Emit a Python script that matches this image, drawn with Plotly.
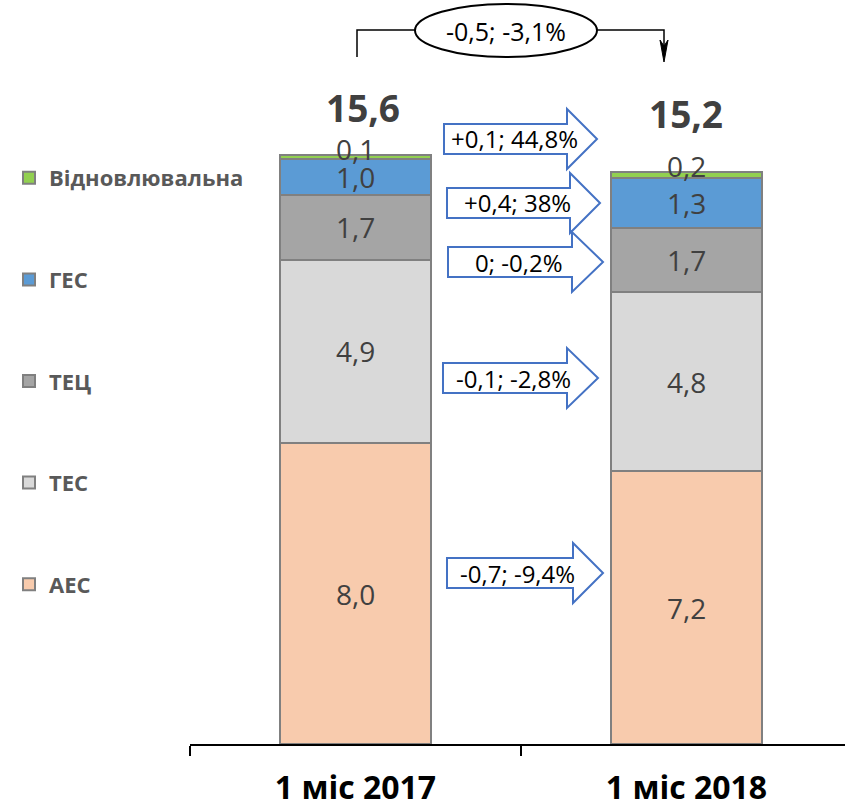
import plotly.graph_objects as go

# ---------------- data ----------------
categories = ["1 міс 2017", "1 міс 2018"]
series_names = ["АЕС", "ТЕС", "ТЕЦ", "ГЕС", "Відновлювальна"]
aes = [7.98, 7.23]
tes = [4.87, 4.76]
tec = [1.71, 1.71]
ges = [0.96, 1.31]
renew = [0.11, 0.16]
change_labels = ["+0,1; 44,8%", "+0,4; 38%", "0; -0,2%", "-0,1; -2,8%", "-0,7; -9,4%"]
total_change_label = "-0,5; -3,1%"

series_values = [aes, tes, tec, ges, renew]
series_colors = ["#F8CBAD", "#D9D9D9", "#A5A5A5", "#5B9BD5", "#92D050"]

# ---------------- geometry helpers (pixels -> paper) ----------------
W, H = 845, 806
MB = 62
PH = H - MB  # plot-area height (t=0)


def px(x):
    return x / W


def py(y):
    return 1 - y / PH


def fmt(v):
    return f"{v:.1f}".replace(".", ",")


FONT = "Open Sans, Noto Sans, sans-serif"

fig = go.Figure()
n = len(series_names)
for k, (name, vals, col) in enumerate(zip(series_names, series_values, series_colors)):
    fig.add_trace(go.Bar(
        x=categories, y=vals, name=name, legendgroup=name, legendrank=100 * (n - k),
        marker=dict(color=col, line=dict(color="#808080", width=2)),
        width=0.456, hoverinfo="skip",
    ))

annotations = []
# segment labels
for i, cat in enumerate(categories):
    base = 0.0
    for k, vals in enumerate(series_values):
        v = vals[i]
        if k == len(series_values) - 1:
            annotations.append(dict(x=cat, y=base + v, xref="x", yref="y", text=fmt(v),
                                    showarrow=False, yanchor="middle", yshift=6,
                                    font=dict(family=FONT, size=28, color="#404040")))
        else:
            annotations.append(dict(x=cat, y=base + v / 2, xref="x", yref="y", text=fmt(v),
                                    showarrow=False, yanchor="middle",
                                    font=dict(family=FONT, size=28, color="#404040")))
        base += v
    # totals
    annotations.append(dict(x=cat, y=base, xref="x", yref="y", text=fmt(base),
                            showarrow=False, yanchor="middle", yshift=[47, 59][i],
                            xshift=[8, 0][i],
                            font=dict(family=FONT, size=37, color="#404040", weight="bold")))

shapes = []


def block_arrow(left, cy, base, tip, bh=30, hh=60):
    pts = [(left, cy - bh / 2), (base, cy - bh / 2), (base, cy - hh / 2), (tip, cy),
           (base, cy + hh / 2), (base, cy + bh / 2), (left, cy + bh / 2)]
    path = "M " + " L ".join(f"{px(x):.5f},{py(y):.5f}" for x, y in pts) + " Z"
    return dict(type="path", path=path, xref="paper", yref="paper",
                line=dict(color="#4472C4", width=2), fillcolor="white")


arrow_geom = [(444, 139, 567, 597), (447, 203, 570, 600), (448, 262, 572, 603),
              (443, 378, 567, 598), (447, 573, 573, 603)]
for (left, cy, base, tip), lab in zip(arrow_geom, change_labels):
    shapes.append(block_arrow(left, cy, base, tip))
    annotations.append(dict(x=px(left + 70), y=py(cy), xref="paper", yref="paper",
                            text=lab, showarrow=False, xanchor="center", yanchor="middle",
                            font=dict(family=FONT, size=24, color="black")))

# top bracket with ellipse
shapes.append(dict(type="path", xref="paper", yref="paper",
                   path=f"M {px(357)},{py(57)} L {px(357)},{py(30)} L {px(420)},{py(30)}",
                   line=dict(color="black", width=1.5)))
shapes.append(dict(type="path", xref="paper", yref="paper",
                   path=f"M {px(590)},{py(30)} L {px(664)},{py(30)} L {px(664)},{py(50)}",
                   line=dict(color="black", width=1.5)))
shapes.append(dict(type="path", xref="paper", yref="paper",
                   path=(f"M {px(660)},{py(40)} L {px(664)},{py(62)} L {px(668)},{py(40)} "
                         f"L {px(664)},{py(46)} Z"),
                   line=dict(color="black", width=1), fillcolor="black"))
shapes.append(dict(type="circle", xref="paper", yref="paper",
                   x0=px(415), x1=px(597), y0=py(57), y1=py(4),
                   line=dict(color="black", width=2), fillcolor="white"))
annotations.append(dict(x=px(506), y=py(31), xref="paper", yref="paper",
                        text=total_change_label, showarrow=False,
                        xanchor="center", yanchor="middle",
                        font=dict(family=FONT, size=25, color="black")))

fig.update_layout(
    width=W, height=H,
    margin=dict(l=0, r=0, t=0, b=MB, autoexpand=False),
    barmode="stack",
    plot_bgcolor="white", paper_bgcolor="white",
    separators=", ",
    showlegend=True,
    legend=dict(
        x=px(9), y=py(157), xanchor="left", yanchor="top",
        traceorder="grouped", tracegroupgap=70,
        font=dict(family=FONT, size=22, color="#595959", weight="bold"),
        bgcolor="rgba(0,0,0,0)",
    ),
    xaxis=dict(
        domain=[190 / W, 1], range=[-0.5, 1.479], type="category", automargin=False,
        showline=True, linecolor="black", linewidth=2,
        ticks="outside", tickson="boundaries", ticklen=10, tickcolor="black", tickwidth=2,
        tickfont=dict(family=FONT, size=32, color="black", weight="bold"),
        ticklabelstandoff=15, showgrid=False, zeroline=False,
    ),
    yaxis=dict(range=[0, PH / 37.7], visible=False, showgrid=False, zeroline=False,
               automargin=False),
    shapes=shapes,
    annotations=annotations,
)

fig.write_html("out.html", config={"displayModeBar": False},
               post_script="document.body.style.margin='0';")
